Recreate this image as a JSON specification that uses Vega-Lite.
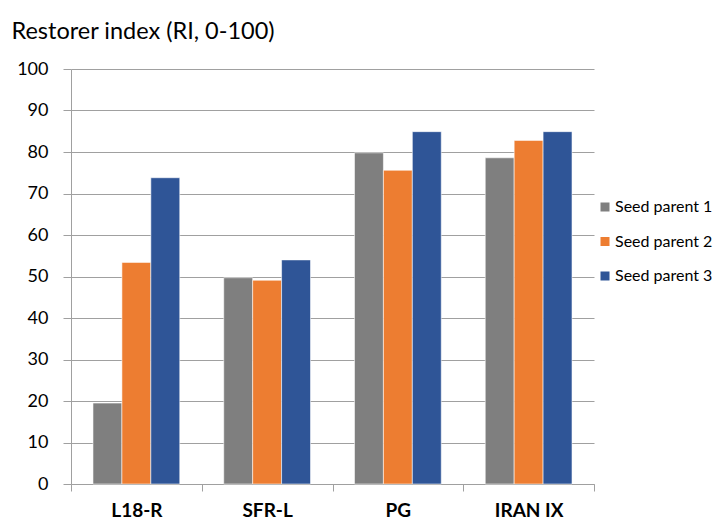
{
  "$schema": "https://vega.github.io/schema/vega-lite/v6.json",
  "width": 523,
  "height": 415,
  "autosize": {"type": "none"},
  "padding": {"left": 71, "top": 69, "right": 121, "bottom": 39},
  "background": "white",
  "config": {
    "view": {"stroke": null},
    "font": "Lato"
  },
  "data": {
    "values": [
      {"variety": "L18-R", "series": "Seed parent 1", "ri": 19.5},
      {"variety": "L18-R", "series": "Seed parent 2", "ri": 53.4},
      {"variety": "L18-R", "series": "Seed parent 3", "ri": 73.8},
      {"variety": "SFR-L", "series": "Seed parent 1", "ri": 49.7},
      {"variety": "SFR-L", "series": "Seed parent 2", "ri": 49.1},
      {"variety": "SFR-L", "series": "Seed parent 3", "ri": 54.0},
      {"variety": "PG", "series": "Seed parent 1", "ri": 79.8},
      {"variety": "PG", "series": "Seed parent 2", "ri": 75.6},
      {"variety": "PG", "series": "Seed parent 3", "ri": 84.9},
      {"variety": "IRAN IX", "series": "Seed parent 1", "ri": 78.6},
      {"variety": "IRAN IX", "series": "Seed parent 2", "ri": 82.8},
      {"variety": "IRAN IX", "series": "Seed parent 3", "ri": 84.9}
    ]
  },
  "mark": {"type": "bar", "stroke": "#ffffff", "strokeWidth": 0.8, "strokeOpacity": 0.7},
  "encoding": {
    "x": {
      "field": "variety",
      "type": "nominal",
      "sort": ["L18-R", "SFR-L", "PG", "IRAN IX"],
      "scale": {"paddingInner": 0, "paddingOuter": 0},
      "axis": {
        "title": null,
        "labelAngle": 0,
        "labelFont": "Lato",
        "labelFontSize": 19,
        "labelFontWeight": "bold",
        "labelColor": "#000000",
        "labelPadding": 10,
        "tickBand": "extent",
        "tickSize": 7,
        "tickColor": "#a0a0a0",
        "domainColor": "#a0a0a0",
        "grid": false
      }
    },
    "xOffset": {
      "field": "series",
      "type": "nominal",
      "scale": {"paddingInner": 0, "paddingOuter": 0.76}
    },
    "y": {
      "field": "ri",
      "type": "quantitative",
      "scale": {"domain": [0, 100], "nice": false},
      "axis": {
        "values": [0, 10, 20, 30, 40, 50, 60, 70, 80, 90, 100],
        "title": "Restorer index (RI, 0-100)",
        "titleAngle": 0,
        "titleAlign": "left",
        "titleBaseline": "middle",
        "titleX": -60,
        "titleY": -38,
        "titleFont": "Lato",
        "titleFontSize": 23.5,
        "titleFontWeight": "normal",
        "titleColor": "#000000",
        "labelFont": "Lato",
        "labelFontSize": 18,
        "labelColor": "#000000",
        "labelPadding": 15,
        "tickSize": 8,
        "tickColor": "#a0a0a0",
        "domainColor": "#a0a0a0",
        "gridColor": "#a0a0a0",
        "gridWidth": 1
      }
    },
    "color": {
      "field": "series",
      "type": "nominal",
      "scale": {
        "domain": ["Seed parent 1", "Seed parent 2", "Seed parent 3"],
        "range": ["#7f7f7f", "#ed7d31", "#2f5597"]
      },
      "legend": {
        "title": null,
        "orient": "none",
        "legendX": 526,
        "legendY": 130,
        "symbolType": "square",
        "symbolSize": 81,
        "symbolStrokeWidth": 0,
        "labelFont": "Lato",
        "labelFontSize": 16,
        "labelColor": "#000000",
        "labelOffset": 2,
        "rowPadding": 18.5
      }
    }
  }
}
